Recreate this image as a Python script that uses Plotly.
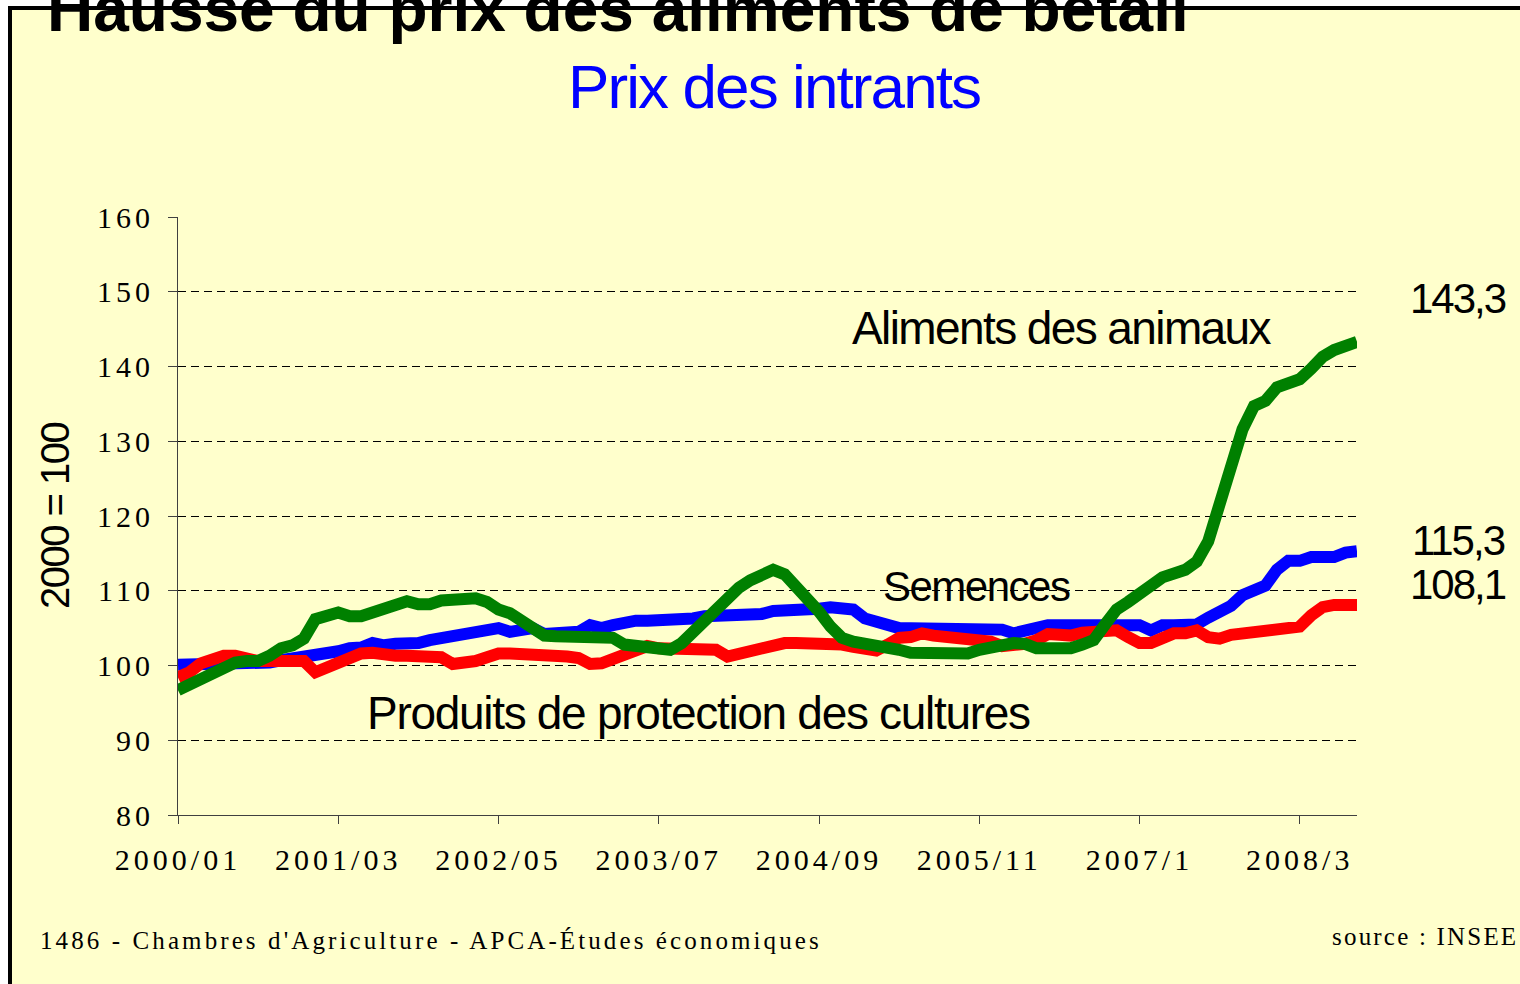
import plotly.graph_objects as go

# ---------------- data ----------------
start_year, start_month, n_months = 2000, 1, 104
months = []
for k in range(n_months):
    y, m = divmod(start_month - 1 + k, 12)
    months.append(f"{start_year + y}/{m + 1:02d}")

tick_months = ["2000/01", "2001/03", "2002/05", "2003/07", "2004/09", "2005/11", "2007/01", "2008/03"]
tick_labels = ["2000/01", "2001/03", "2002/05", "2003/07", "2004/09", "2005/11", "2007/1", "2008/3"]
y_ticks = [80, 90, 100, 110, 120, 130, 140, 150, 160]

semences = [
    100.1, 100.1, 100.0, 100.0, 100.0, 100.0, 100.0, 100.0, 100.4, 100.7,
    100.9, 101.1, 101.2, 101.7, 101.9, 102.3, 102.4, 103.0, 102.7, 102.9,
    102.9, 103.0, 103.4, 103.6, 104.2, 104.2, 104.3, 104.5, 105.0, 104.5,
    104.7, 105.0, 104.2, 104.2, 104.3, 104.5, 105.4, 105.0, 105.4, 105.9,
    106.0, 106.0, 106.0, 106.0, 106.0, 106.3, 106.6, 106.6, 106.6, 106.6,
    106.6, 106.9, 107.3, 107.3, 107.3, 107.3, 107.6, 107.8, 107.8, 107.5,
    106.3, 105.8, 105.5, 105.0, 105.0, 105.0, 105.0, 105.0, 105.0, 105.0,
    105.0, 104.9, 104.8, 104.3, 104.7, 105.3, 105.4, 105.4, 105.4, 105.4,
    105.4, 105.4, 105.4, 105.4, 105.4, 104.7, 105.4, 105.4, 105.4, 105.5,
    106.4, 107.1, 108.0, 109.4, 109.9, 110.7, 112.8, 114.0, 114.0, 114.5,
    114.5, 114.5, 115.1, 115.3,
]

protection = [
    98.4, 99.1, 100.3, 101.0, 101.3, 101.3, 100.9, 100.6, 100.6, 100.6,
    100.6, 100.6, 99.1, 99.8, 100.6, 101.1, 101.6, 101.7, 101.3, 101.3,
    101.3, 101.3, 101.3, 101.1, 100.2, 100.2, 100.6, 101.1, 101.6, 101.6,
    101.6, 101.3, 101.3, 101.3, 101.2, 101.0, 100.2, 100.3, 100.9, 101.7,
    102.2, 102.6, 102.3, 102.2, 102.1, 102.1, 102.1, 102.1, 101.2, 101.6,
    102.1, 102.6, 103.0, 103.0, 103.0, 103.0, 103.0, 103.0, 102.8, 102.5,
    102.1, 102.0, 102.8, 103.7, 103.8, 104.3, 104.0, 103.8, 103.8, 103.8,
    103.6, 103.2, 102.6, 102.6, 102.9, 103.4, 104.2, 104.1, 104.0, 104.4,
    104.5, 104.7, 104.7, 103.8, 103.0, 103.0, 103.5, 104.3, 104.3, 104.7,
    103.8, 103.6, 104.1, 104.3, 104.3, 104.3, 104.7, 104.7, 105.2, 106.7,
    107.8, 108.1, 108.1, 108.1,
]

aliments = [
    96.7, 97.4, 98.3, 98.9, 99.8, 100.4, 100.6, 100.6, 101.3, 102.3,
    102.7, 103.6, 106.2, 106.6, 107.1, 106.6, 106.6, 107.1, 107.7, 108.2,
    108.6, 108.2, 108.2, 108.7, 108.7, 109.0, 109.0, 108.5, 107.5, 107.0,
    106.0, 104.9, 104.0, 103.9, 103.8, 103.8, 103.8, 103.8, 103.7, 102.8,
    102.7, 102.3, 102.1, 102.1, 103.0, 104.5, 106.3, 107.9, 109.0, 110.4,
    111.4, 112.0, 112.8, 112.2, 110.7, 108.9, 107.2, 105.2, 103.7, 103.2,
    103.0, 102.7, 102.6, 102.1, 101.7, 101.6, 101.6, 101.6, 101.6, 101.6,
    102.1, 102.4, 103.0, 103.0, 102.9, 102.3, 102.3, 102.3, 102.3, 102.8,
    103.4, 105.5, 107.5, 108.5, 109.8, 110.7, 111.8, 112.4, 112.8, 113.9,
    116.6, 121.6, 126.8, 131.6, 134.7, 135.4, 137.2, 137.7, 138.3, 139.7,
    141.3, 142.2, 142.6, 143.3,
]

# ---------------- layout helpers ----------------
W, H = 1520, 984
PL, PR, PT, PB = 178, 1357, 217, 815


def xp(px):
    return (px - PL) / (PR - PL)


def yp(py):
    return (PB - py) / (PB - PT)


SERIF = "Liberation Serif, Times New Roman, serif"
SANS = "Liberation Sans, Arial, sans-serif"


def spaced(t, px):
    return f'<span style="letter-spacing:{px}px">{t}</span>'


fig = go.Figure()
fig.add_trace(go.Scatter(x=months, y=semences, mode="lines", name="Semences",
                         line=dict(color="#0000FF", width=12)))
fig.add_trace(go.Scatter(x=months, y=protection, mode="lines", name="Produits de protection des cultures",
                         line=dict(color="#FF0000", width=12)))
fig.add_trace(go.Scatter(x=months, y=aliments, mode="lines", name="Aliments des animaux",
                         line=dict(color="#008000", width=12)))

annotations = [
    dict(text="<b>Hausse du prix des aliments de bétail</b>", x=xp(45), y=yp(47),
         xanchor="left", yanchor="bottom", font=dict(family=SANS, size=64, color="black")),
    dict(text=spaced("Prix des intrants", -1.9), x=xp(774), y=yp(86), xanchor="center", yanchor="middle",
         font=dict(family=SANS, size=62, color="#0000FF")),
    dict(text=spaced("Aliments des animaux", -1.6), x=xp(1062), y=yp(328), xanchor="center",
         yanchor="middle", font=dict(family=SANS, size=46, color="black")),
    dict(text=spaced("Semences", -1.5), x=xp(976), y=yp(586), xanchor="center", yanchor="middle",
         font=dict(family=SANS, size=42, color="black")),
    dict(text=spaced("Produits de protection des cultures", -1.3), x=xp(698), y=yp(713),
         xanchor="center", yanchor="middle", font=dict(family=SANS, size=46, color="black")),
    dict(text=spaced("143,3", -2), x=xp(1458), y=yp(298), xanchor="center", yanchor="middle",
         font=dict(family=SANS, size=42, color="black")),
    dict(text=spaced("115,3", -2), x=xp(1458), y=yp(540), xanchor="center", yanchor="middle",
         font=dict(family=SANS, size=42, color="black")),
    dict(text=spaced("108,1", -2), x=xp(1458), y=yp(584), xanchor="center", yanchor="middle",
         font=dict(family=SANS, size=42, color="black")),
    dict(text=spaced("2000 = 100", -1.5), x=xp(55), y=yp(516), xanchor="center", yanchor="middle",
         textangle=-90, font=dict(family=SANS, size=40, color="black")),
    dict(text=spaced("1486 - Chambres d'Agriculture - APCA-Études économiques", 3.1), x=xp(38), y=yp(940),
         xanchor="left", yanchor="middle", font=dict(family=SERIF, size=25, color="black")),
    dict(text=spaced("source : INSEE", 2.2), x=xp(1330), y=yp(936),
         xanchor="left", yanchor="middle", font=dict(family=SERIF, size=25, color="black")),
]
for a in annotations:
    a.update(xref="paper", yref="paper", showarrow=False)

fig.update_layout(
    width=W, height=H,
    margin=dict(l=PL, r=W - PR, t=PT, b=H - PB, pad=0),
    paper_bgcolor="white",
    plot_bgcolor="rgba(0,0,0,0)",
    showlegend=False,
    annotations=annotations,
    shapes=[dict(type="rect", xref="paper", yref="paper", layer="below",
                 x0=xp(10), x1=xp(1540), y0=yp(1000), y1=yp(8),
                 fillcolor="#FFFFCC", line=dict(color="black", width=4))],
)

fig.update_xaxes(
    type="category", range=[0, len(months) - 1],
    tickmode="array", tickvals=tick_months, ticktext=[spaced(t, 4) for t in tick_labels],
    ticks="outside", ticklen=8, tickcolor="#404040", tickwidth=1,
    showline=True, linecolor="#404040", linewidth=1,
    showgrid=False, zeroline=False,
    tickfont=dict(family=SERIF, size=30, color="black"),
    ticklabelstandoff=10,
)
fig.update_yaxes(
    range=[80, 160], tickmode="array", tickvals=y_ticks, ticktext=[spaced(str(v), 4) for v in y_ticks],
    ticks="outside", ticklen=9, tickcolor="#404040", tickwidth=1,
    showline=True, linecolor="#404040", linewidth=1,
    showgrid=True, gridcolor="black", gridwidth=1, griddash="8px,5px",
    zeroline=False,
    tickfont=dict(family=SERIF, size=30, color="black"),
    ticklabelstandoff=8,
)

fig.write_html(
    "out.html",
    config={"displayModeBar": False},
    post_script="document.body.style.margin='0px'; document.body.style.overflow='hidden';",
)
